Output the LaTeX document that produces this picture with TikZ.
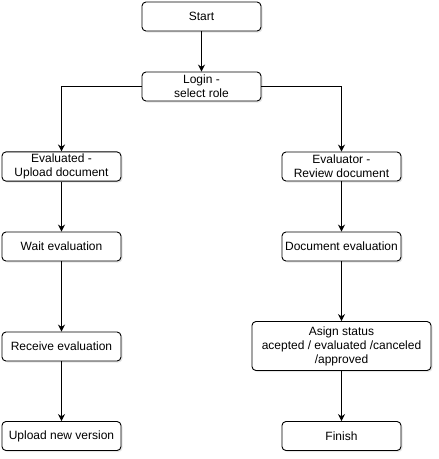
\documentclass[tikz,border=0pt]{standalone}
\usepackage{fontspec}
\setmainfont{Liberation Sans}
\usetikzlibrary{positioning, arrows.meta, shadows}
\tikzset{
    arrow/.style={draw,line width=1pt,-{Stealth[length=7pt,width=7pt]}},
    block/.style={shape=rectangle,draw,line width=0.9pt,rounded corners=4pt,fill=white,
        minimum width=119pt,minimum height=29pt,align=center,inner sep=2pt,
        font=\fontsize{12}{14}\selectfont,
        drop shadow={shadow xshift=1.5pt,shadow yshift=-1.5pt,opacity=0.2}}
}

\begin{document}
\begin{tikzpicture}[x=1pt,y=-1pt]
    \useasboundingbox (0,0) rectangle (439,459);

    % define columns
    \def\colM{201.5}
    \def\colA{61.5}
    \def\colB{341.5}

    % nodes
    \node [block] at (\colM,16.5)  (start)  {Start};
    \node [block] at (\colM,86.5)  (login)  {Login -\\ select role};

    \node [block] at (\colA,166.5) (upload) {Evaluated -\\ Upload document};
    \node [block] at (\colA,246.5) (wait)   {Wait evaluation};
    \node [block] at (\colA,346.5) (recv)   {Receive evaluation};
    \node [block] at (\colA,436)   (newver) {Upload new version};

    \node [block] at (\colB,166.5) (review) {Evaluator -\\ Review document};
    \node [block] at (\colB,246.5) (doceval){Document evaluation};
    \node [block, minimum width=179pt, minimum height=49pt]
                  at (\colB,346)   (status) {Asign status\\ acepted / evaluated /canceled\\ /approved};
    \node [block] at (\colB,436)   (finish) {Finish};

    % draw arrows
    \begin{scope}[arrow]
        \draw (start) -- (login);
        \draw (login.west) -| (upload);
        \draw (login.east) -| (review);
        \draw (upload) -- (wait);
        \draw (wait) -- (recv);
        \draw (recv) -- (newver);
        \draw (review) -- (doceval);
        \draw (doceval) -- (status);
        \draw (status) -- (finish);
    \end{scope}
\end{tikzpicture}
\end{document}
